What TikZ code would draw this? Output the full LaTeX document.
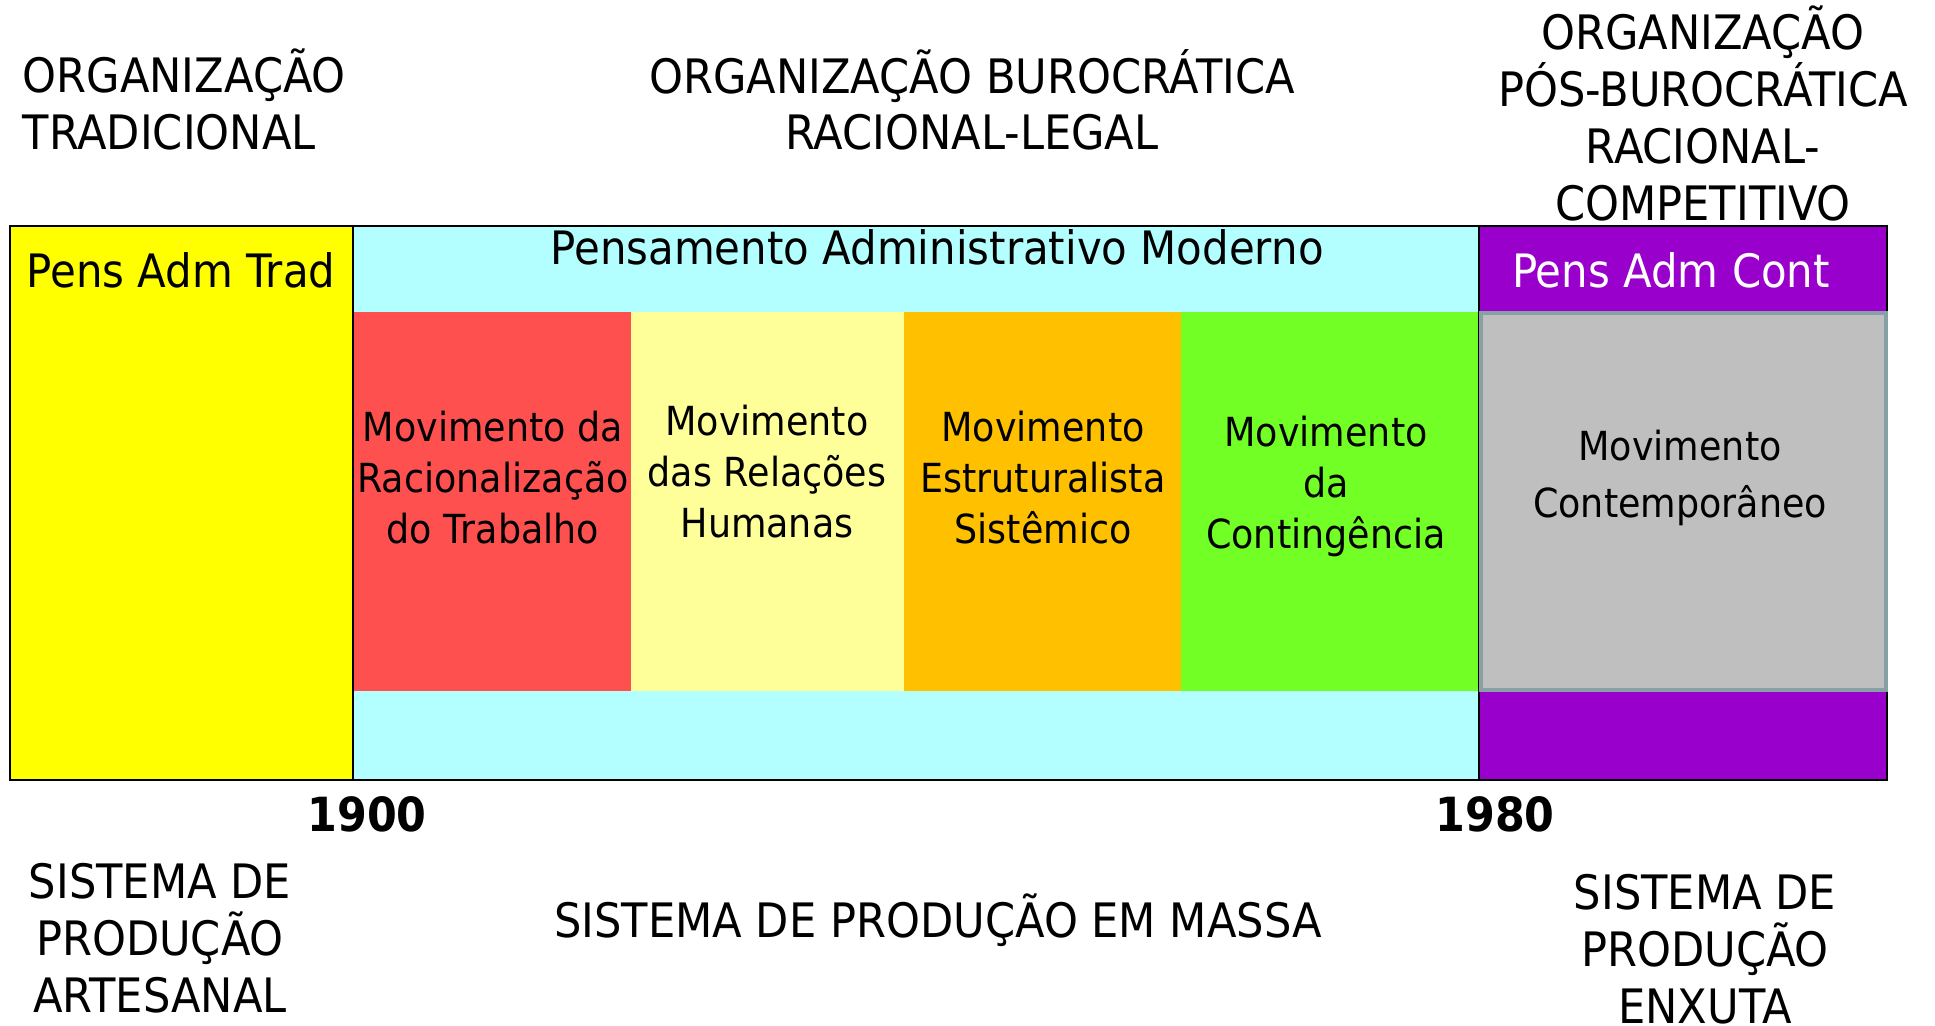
\documentclass[tikz,border=0pt]{standalone}
\usepackage{fontspec}
\setmainfont{DejaVu Sans}[FakeStretch=0.91]
\usetikzlibrary{positioning, calc}

\definecolor{tradyellow}{RGB}{255,255,0}
\definecolor{modcyan}{RGB}{179,255,255}
\definecolor{contpurple}{RGB}{153,0,204}
\definecolor{movred}{RGB}{255,80,80}
\definecolor{movyellow}{RGB}{255,255,153}
\definecolor{movorange}{RGB}{255,192,0}
\definecolor{movgreen}{RGB}{114,255,38}
\definecolor{movgray}{RGB}{191,191,191}
\definecolor{grayedge}{RGB}{134,160,164}

\begin{document}
\begin{tikzpicture}[
  % Define styles for different elements
  era/.style={font=\fontsize{13.5}{16.2}\selectfont, align=center, anchor=base, inner sep=0pt},
  penstitle/.style={font=\fontsize{13.1}{15}\selectfont, anchor=base, inner sep=0pt},
  movtext/.style={font=\fontsize{11.4}{14.5}\selectfont, align=center, anchor=base, inner sep=0pt},
  year/.style={font=\fontsize{13.4}{15}\selectfont\bfseries, anchor=base, inner sep=0pt},
  frame/.style={draw=black, line width=0.6pt},
  grayframe/.style={draw=grayedge, fill=movgray, line width=0.9pt}
]

\fill[white] (0,0) rectangle (19.35,-10.25);
\useasboundingbox (0,0) rectangle (19.35,-10.25);

% Row 1: Organisation types (base anchor sits on the last line)
\node[era, anchor=base west, align=left] (org_trad) at (0.22,-1.49) {ORGANIZAÇÃO\\TRADICIONAL};
\node[era] (org_buro) at (9.72,-1.50) {ORGANIZAÇÃO BUROCRÁTICA\\RACIONAL-LEGAL};
\node[era] (org_pos) at (17.03,-2.20) {ORGANIZAÇÃO\\PÓS-BUROCRÁTICA\\RACIONAL-\\COMPETITIVO};

% Row 2: Administrative thought
\coordinate (band_top_left) at (0.10,-2.26);
\coordinate (band_bot_right) at (18.87,-7.80);
\coordinate (split_1900) at (3.53,-2.26);
\coordinate (split_1980) at (14.79,-2.26);

\fill[tradyellow] (band_top_left) rectangle (3.53,-7.80);
\fill[modcyan] (split_1900) rectangle (14.79,-7.80);
\fill[contpurple] (split_1980) rectangle (band_bot_right);

% Movements
\fill[movred] (3.54,-3.12) rectangle (6.31,-6.91);
\fill[movyellow] (6.31,-3.12) rectangle (9.04,-6.91);
\fill[movorange] (9.04,-3.12) rectangle (11.81,-6.91);
\fill[movgreen] (11.81,-3.12) rectangle (14.79,-6.91);

\draw[frame] (split_1900) -- (3.53,-7.80);
\draw[frame] (split_1980) -- (14.79,-7.80);
\draw[frame] (band_top_left) rectangle (band_bot_right);
\draw[grayframe] (14.81,-3.13) rectangle (18.86,-6.90);

\node[penstitle] (pens_trad) at (1.81,-2.87) {Pens Adm Trad};
\node[penstitle] (pens_mod) at (9.37,-2.64) {Pensamento Administrativo Moderno};
\node[penstitle, text=white] (pens_cont) at (16.71,-2.87) {Pens Adm Cont};

\node[movtext] (mov_rac) at (4.93,-5.43) {Movimento da\\Racionalização\\do Trabalho};
\node[movtext] (mov_rel) at (7.67,-5.37) {Movimento\\das Relações\\Humanas};
\node[movtext] (mov_est) at (10.43,-5.43) {Movimento\\Estruturalista\\Sistêmico};
\node[movtext] (mov_cont) at (13.26,-5.48) {Movimento\\da\\Contingência};
\node[movtext, font=\fontsize{11.4}{16.2}\selectfont] (mov_contemp) at (16.80,-5.17) {Movimento\\Contemporâneo};

% Row 3: Years and production systems
\node[year] (year_1900) at (3.67,-8.31) {1900};
\node[year] (year_1980) at (14.95,-8.31) {1980};

\node[era] (sys_art) at (1.60,-10.12) {SISTEMA DE\\PRODUÇÃO\\ARTESANAL};
\node[era] (sys_massa) at (9.38,-9.37) {SISTEMA DE PRODUÇÃO EM MASSA};
\node[era] (sys_enx) at (17.05,-10.23) {SISTEMA DE\\PRODUÇÃO\\ENXUTA};

\end{tikzpicture}
\end{document}
